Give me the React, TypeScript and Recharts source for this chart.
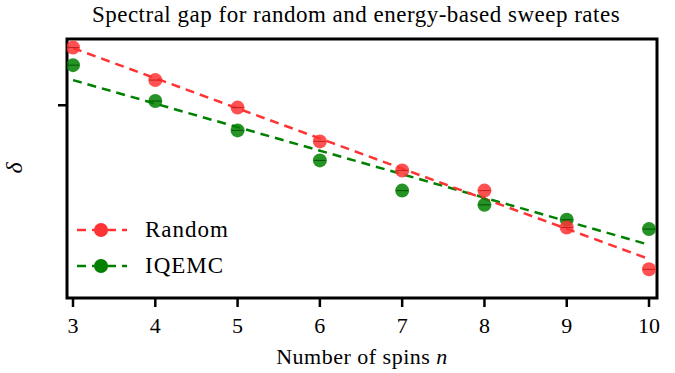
import { ComposedChart, Line, Scatter, XAxis, YAxis, ReferenceArea } from "recharts";

// values (log-scaled delta, unlabeled axis)
const spins = [3, 4, 5, 6, 7, 8, 9, 10];
const randomGap = [0.17, 0.126, 0.0979, 0.0718, 0.055, 0.0457, 0.0326, 0.0222];
const iqemcGap = [0.1445, 0.104, 0.0794, 0.0603, 0.0457, 0.0401, 0.035, 0.0321];
const fitSpins = [3, 10];
const randomFit = [0.169, 0.0244];
const iqemcFit = [0.126, 0.0278];
const yTicks = [0.1];
const seriesNames = ["Random", "IQEMC"];

const RED = "#ff3333";
const GREEN = "#008000";
const FONT = "Liberation Serif, DejaVu Serif, Times New Roman, serif";

const toRows = (xs: number[], ys: number[]) => xs.map((n, i) => ({ n, delta: ys[i] }));

const randomPts = toRows(spins, randomGap);
const iqemcPts = toRows(spins, iqemcGap);
const randomLine = toRows(fitSpins, randomFit);
const iqemcLine = toRows(fitSpins, iqemcFit);

const marker = (color: string, edge: string) => (props: any) => {
  const { cx, cy } = props;
  return (
    <g>
      <circle cx={cx} cy={cy} r={7} fill={color} fillOpacity={0.85} />
      <line x1={cx - 6} x2={cx + 6} y1={cy} y2={cy} stroke={edge} strokeWidth={1} />
    </g>
  );
};

const LegendBox = () => {
  const colors = [RED, GREEN];
  return (
    <div
      style={{
        position: "absolute",
        left: 76,
        top: 212,
        fontFamily: FONT,
        fontSize: 23,
        letterSpacing: 1,
      }}
    >
      {seriesNames.map((name, i) => (
        <div key={name} style={{ display: "flex", alignItems: "center", height: 36 }}>
          <svg width={52} height={16}>
            <line x1={1} x2={51} y1={8} y2={8} stroke={colors[i]} strokeWidth={2.5} strokeDasharray="9 6" />
            <circle cx={25} cy={8} r={7} fill={colors[i]} />
          </svg>
          <span style={{ marginLeft: 17 }}>{name}</span>
        </div>
      ))}
    </div>
  );
};

export default function App() {
  return (
    <div style={{ position: "relative", width: 675, height: 373, background: "#fff" }}>
      <style>{`body{margin:0}`}</style>
      <div
        style={{
          position: "absolute",
          left: 0,
          top: 2,
          width: 712,
          textAlign: "center",
          fontFamily: FONT,
          fontSize: 23,
          letterSpacing: 0.5,
          zIndex: 2,
        }}
      >
        Spectral gap for random and energy-based sweep rates
      </div>
      <ComposedChart width={675} height={373} margin={{ top: 39, right: 18, bottom: 0, left: 0 }}>
        <XAxis
          type="number"
          dataKey="n"
          domain={[2.927, 10.097]}
          ticks={spins}
          allowDataOverflow
          height={75}
          axisLine={false}
          tickLine={{ stroke: "#000", strokeWidth: 2.5 }}
          tickSize={9}
          tick={{ fill: "#000", fontFamily: FONT, fontSize: 22, dy: 8 }}
          label={() => (
            <text
              x={362}
              y={364}
              textAnchor="middle"
              fontFamily={FONT}
              fontSize={22}
              letterSpacing={0.5}
              fill="#000"
            >
              Number of spins <tspan fontStyle="italic">n</tspan>
            </text>
          )}
        />
        <YAxis
          type="number"
          dataKey="delta"
          scale="log"
          domain={[0.01706, 0.1837]}
          ticks={yTicks}
          allowDataOverflow
          width={67}
          axisLine={false}
          tickLine={{ stroke: "#000", strokeWidth: 2.5 }}
          tickSize={9}
          tickFormatter={() => ""}
          label={() => (
            <text
              x={22}
              y={168}
              textAnchor="middle"
              fontFamily={FONT}
              fontStyle="italic"
              fontSize={24}
              fill="#000"
              transform="rotate(-90 22 168)"
            >
              δ
            </text>
          )}
        />
        <Line data={iqemcLine} dataKey="delta" stroke={GREEN} strokeWidth={2.5} strokeDasharray="9 6" dot={false} isAnimationActive={false} />
        <Line data={randomLine} dataKey="delta" stroke={RED} strokeWidth={2.5} strokeDasharray="9 6" dot={false} isAnimationActive={false} />
        <Scatter data={iqemcPts} dataKey="delta" shape={marker(GREEN, "#005500")} isAnimationActive={false} />
        <Scatter data={randomPts} dataKey="delta" shape={marker(RED, "#c02020")} isAnimationActive={false} />
        <ReferenceArea
          x1={2.927}
          x2={10.097}
          y1={0.01706}
          y2={0.1837}
          fill="none"
          stroke="#000"
          strokeWidth={3}
          ifOverflow="visible"
        />
      </ComposedChart>
      <LegendBox />
    </div>
  );
}
